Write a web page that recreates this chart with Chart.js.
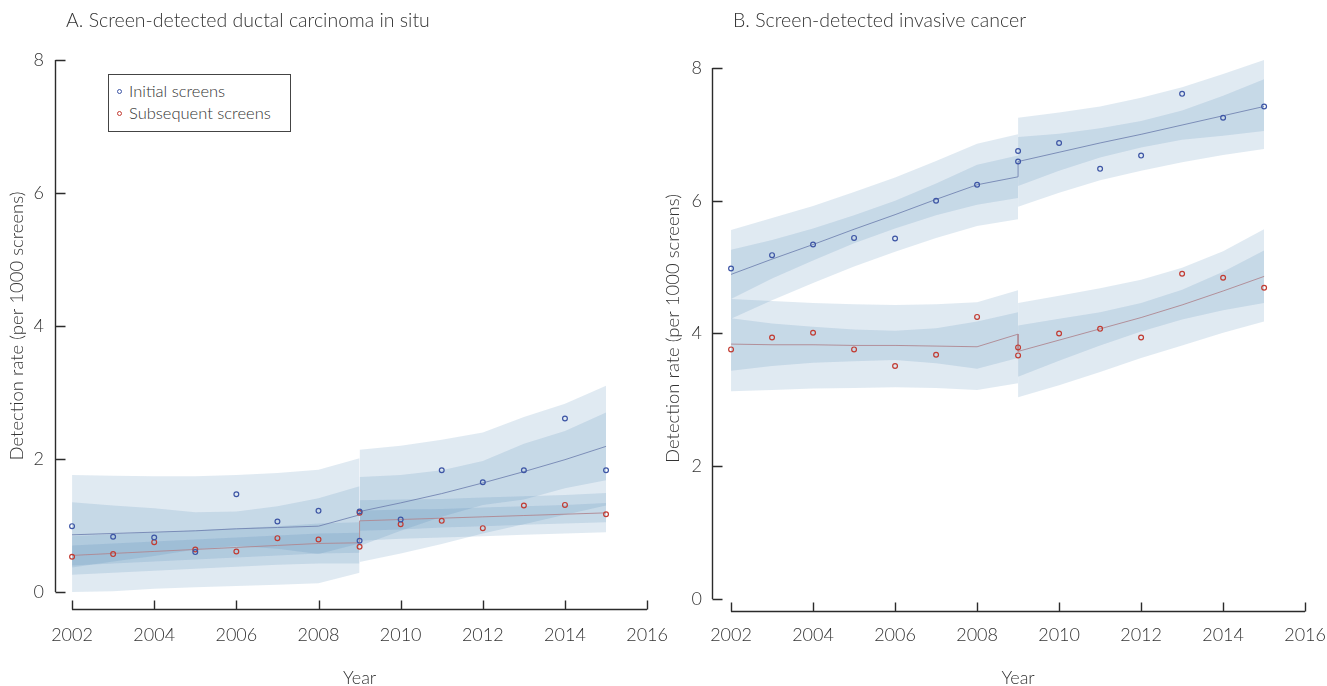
<!DOCTYPE html>
<html>
<head>
<meta charset="utf-8">
<title>Screen-detected cancer detection rates</title>
<script src="https://cdn.jsdelivr.net/npm/chart.js@4.4.1/dist/chart.umd.min.js"></script>
<style>
  body { margin: 0; background: #fff; font-family: Lato, "Open Sans", sans-serif; font-weight: 300; color: #333; }
  #wrap { position: relative; width: 1327px; height: 686px; overflow: hidden; }
  .panel { position: absolute; top: 0; }
  #chartA { left: 0; }
  #chartB { left: 663px; }
  .ptitle { position: absolute; top: 8px; font-size: 19.5px; white-space: nowrap; color: #333; }
  .legend { position: absolute; left: 108px; top: 74px; width: 181px; height: 56px; border: 1px solid #444; background: #fff; font-size: 16.5px; }
  .legend div { position: absolute; left: 8px; white-space: nowrap; }
  .legend span { display: inline-block; width: 3px; height: 3px; border: 1.2px solid; border-radius: 50%; margin-right: 7px; vertical-align: middle; position: relative; top: -1px; }
</style>
</head>
<body>
<div id="wrap">
  <canvas id="chartA" class="panel" width="700" height="686"></canvas>
  <canvas id="chartB" class="panel" width="688" height="686"></canvas>
  <div class="ptitle" style="left:66px">A. Screen-detected ductal carcinoma in situ</div>
  <div class="ptitle" style="left:733px">B. Screen-detected invasive cancer</div>
  <div class="legend">
    <div style="top:6px"><span style="border-color:#3d55a5"></span>Initial screens</div>
    <div style="top:28px"><span style="border-color:#c23b32"></span>Subsequent screens</div>
  </div>
</div>
<script>
// --- DATA ---
// 2009 appears twice: last point of the 2002-2009 period, first point of 2009-2015
const years = [2002, 2003, 2004, 2005, 2006, 2007, 2008, 2009, 2009, 2010, 2011, 2012, 2013, 2014, 2015];
const xTicks = [2002, 2004, 2006, 2008, 2010, 2012, 2014, 2016];
const yTicks = [0, 2, 4, 6, 8];

// A. ductal carcinoma in situ
const dcisInitialObs = [0.99, 0.83, 0.82, 0.60, 1.47, 1.06, 1.22, 0.77, 1.21, 1.09, 1.83, 1.65, 1.83, 2.61, 1.83];
const dcisSubseqObs  = [0.53, 0.57, 0.75, 0.64, 0.61, 0.81, 0.79, 0.68, 1.19, 1.02, 1.07, 0.96, 1.30, 1.31, 1.17];
const dcisInitialFit = [0.86, 0.88, 0.90, 0.92, 0.95, 0.97, 0.99, 1.16, 1.21, 1.34, 1.48, 1.64, 1.81, 1.99, 2.19];
const dcisInitialOuterHi = [1.76, 1.75, 1.74, 1.74, 1.76, 1.79, 1.84, 2.01, 2.14, 2.20, 2.29, 2.40, 2.63, 2.83, 3.10];
const dcisInitialOuterLo = [0.00, 0.01, 0.05, 0.07, 0.09, 0.11, 0.13, 0.29, 0.45, 0.58, 0.72, 0.88, 1.02, 1.16, 1.30];
const dcisInitialInnerHi = [1.35, 1.30, 1.26, 1.20, 1.21, 1.29, 1.41, 1.59, 1.73, 1.76, 1.83, 1.97, 2.23, 2.42, 2.70];
const dcisInitialInnerLo = [0.37, 0.46, 0.54, 0.64, 0.69, 0.65, 0.57, 0.73, 0.69, 0.92, 1.13, 1.31, 1.39, 1.56, 1.68];
const dcisSubseqFit = [0.55, 0.58, 0.61, 0.64, 0.67, 0.70, 0.73, 0.74, 1.07, 1.09, 1.11, 1.13, 1.15, 1.17, 1.19];
const dcisSubseqOuterHi = [0.84, 0.87, 0.90, 0.93, 0.96, 0.99, 1.03, 1.05, 1.38, 1.39, 1.40, 1.42, 1.44, 1.46, 1.49];
const dcisSubseqOuterLo = [0.26, 0.29, 0.32, 0.35, 0.38, 0.41, 0.43, 0.43, 0.77, 0.80, 0.82, 0.84, 0.86, 0.88, 0.90];
const dcisSubseqInnerHi = [0.70, 0.73, 0.76, 0.79, 0.82, 0.85, 0.88, 0.89, 1.22, 1.24, 1.25, 1.27, 1.29, 1.31, 1.34];
const dcisSubseqInnerLo = [0.40, 0.43, 0.46, 0.49, 0.52, 0.55, 0.58, 0.59, 0.92, 0.94, 0.97, 0.99, 1.01, 1.03, 1.05];

// B. invasive cancer
const invInitialObs = [4.98, 5.18, 5.34, 5.44, 5.43, 6.00, 6.24, 6.75, 6.59, 6.87, 6.48, 6.68, 7.61, 7.25, 7.42];
const invSubseqObs  = [3.76, 3.94, 4.01, 3.76, 3.51, 3.68, 4.25, 3.79, 3.67, 4.00, 4.07, 3.94, 4.90, 4.84, 4.69];
const invInitialFit = [4.89, 5.12, 5.34, 5.57, 5.79, 6.02, 6.24, 6.36, 6.59, 6.73, 6.87, 7.00, 7.14, 7.28, 7.42];
const invInitialOuterHi = [5.56, 5.74, 5.92, 6.13, 6.35, 6.60, 6.86, 7.00, 7.25, 7.33, 7.42, 7.55, 7.71, 7.91, 8.12];
const invInitialOuterLo = [4.22, 4.50, 4.76, 5.01, 5.23, 5.44, 5.62, 5.72, 5.91, 6.12, 6.31, 6.45, 6.58, 6.69, 6.78];
const invInitialInnerHi = [5.26, 5.41, 5.58, 5.78, 6.00, 6.26, 6.54, 6.68, 6.96, 7.01, 7.09, 7.20, 7.36, 7.58, 7.83];
const invInitialInnerLo = [4.52, 4.83, 5.10, 5.36, 5.58, 5.78, 5.94, 6.04, 6.22, 6.45, 6.65, 6.80, 6.92, 6.98, 7.05];
const invSubseqFit = [3.84, 3.83, 3.83, 3.82, 3.82, 3.81, 3.80, 3.99, 3.73, 3.90, 4.07, 4.24, 4.43, 4.64, 4.86];
const invSubseqOuterHi = [4.52, 4.49, 4.46, 4.44, 4.43, 4.44, 4.47, 4.65, 4.46, 4.57, 4.68, 4.81, 4.99, 5.24, 5.57];
const invSubseqOuterLo = [3.13, 3.15, 3.17, 3.18, 3.19, 3.18, 3.15, 3.25, 3.04, 3.22, 3.42, 3.63, 3.82, 4.01, 4.18];
const invSubseqInnerHi = [4.23, 4.15, 4.10, 4.06, 4.04, 4.08, 4.18, 4.32, 4.12, 4.22, 4.32, 4.46, 4.66, 4.93, 5.25];
const invSubseqInnerLo = [3.44, 3.51, 3.56, 3.58, 3.60, 3.55, 3.47, 3.63, 3.35, 3.59, 3.82, 4.03, 4.21, 4.35, 4.46];

const SPLIT = 8; // first 8 entries belong to 2002-2009, the rest to 2009-2015
const BAND = 'rgba(70, 130, 180, 0.17)';
const BLUE = '#3d55a5';
const RED = '#c23b32';

function toPoints(xs, vals) {
    return vals.map((v, i) => ({ x: xs[i], y: v }));
}

// two datasets per period: upper edge filled down to the lower edge
function band(hi, lo) {
    const sets = [];
    [[0, SPLIT], [SPLIT, years.length]].forEach(([a, b]) => {
        sets.push({ data: toPoints(years.slice(a, b), hi.slice(a, b)), fill: '+1', backgroundColor: BAND, borderWidth: 0, pointRadius: 0 });
        sets.push({ data: toPoints(years.slice(a, b), lo.slice(a, b)), fill: false, borderWidth: 0, pointRadius: 0 });
    });
    return sets;
}

function dots(vals, color) {
    return { data: toPoints(years, vals), showLine: false, pointRadius: 2.4, pointBorderWidth: 1.2,
             pointBorderColor: color, pointBackgroundColor: 'rgba(0,0,0,0)', clip: false };
}

function fitLine(vals, color) {
    return { data: toPoints(years, vals), borderColor: color, borderWidth: 1, pointRadius: 0, fill: false, tension: 0 };
}

// axis lines sit a little away from the plot, ticks point inwards
const axisFrame = {
    id: 'axisFrame',
    afterDraw(chart, args, opts) {
        const { ctx, chartArea, scales: { x, y } } = chart;
        const ax = Math.round(chartArea.left - opts.yGap) + 0.5;
        const ay = Math.round(chartArea.bottom + opts.xGap) + 0.5;
        ctx.save();
        ctx.strokeStyle = '#2b2b2b';
        ctx.lineWidth = 1.4;
        ctx.beginPath();
        ctx.moveTo(ax, y.getPixelForValue(yTicks[yTicks.length - 1]));
        ctx.lineTo(ax, y.getPixelForValue(yTicks[0]));
        y.ticks.forEach(t => {
            const py = Math.round(y.getPixelForValue(t.value)) + 0.5;
            ctx.moveTo(ax, py); ctx.lineTo(ax + 10, py);
        });
        ctx.moveTo(x.getPixelForValue(x.min), ay);
        ctx.lineTo(x.getPixelForValue(x.max), ay);
        x.ticks.forEach(t => {
            const px = Math.round(x.getPixelForValue(t.value)) + 0.5;
            ctx.moveTo(px, ay); ctx.lineTo(px, ay - 9);
        });
        ctx.stroke();
        ctx.restore();
    }
};

function makeChart(id, g, layout) {
    const datasets = [
        dots(g.initialObs, BLUE),
        dots(g.subseqObs, RED),
        fitLine(g.initialFit, 'rgba(110, 128, 175, 0.85)'),
        fitLine(g.subseqFit, 'rgba(175, 135, 145, 0.9)'),
        ...band(g.initialOuterHi, g.initialOuterLo),
        ...band(g.initialInnerHi, g.initialInnerLo),
        ...band(g.subseqOuterHi, g.subseqOuterLo),
        ...band(g.subseqInnerHi, g.subseqInnerLo)
    ];
    const tickFont = { family: 'Lato', size: 18, weight: 300 };
    return new Chart(document.getElementById(id), {
        type: 'line',
        data: { datasets },
        options: {
            responsive: false,
            animation: false,
            layout: { padding: layout.padding },
            scales: {
                x: {
                    type: 'linear', min: 2002, max: 2016,
                    afterBuildTicks: s => { s.ticks = xTicks.map(v => ({ value: v })); },
                    grid: { display: false, drawTicks: false },
                    border: { display: false },
                    ticks: { color: '#333', font: tickFont, padding: layout.xPad, callback: v => String(v), maxRotation: 0 },
                    title: { display: true, text: 'Year', color: '#333', font: { family: 'Lato', size: 18, weight: 300 },
                             padding: { top: layout.xTitleTop, bottom: -2.8 } }
                },
                y: {
                    min: 0, max: layout.yMax,
                    afterBuildTicks: s => { s.ticks = yTicks.map(v => ({ value: v })); },
                    grid: { display: false, drawTicks: false },
                    border: { display: false },
                    ticks: { color: '#333', font: tickFont, padding: layout.yPad },
                    title: { display: true, text: 'Detection rate (per 1000 screens)', color: '#333',
                             font: { family: 'Lato', size: 18.5, weight: 300 },
                             padding: { top: layout.yTitleTop, bottom: layout.yTitleBottom } }
                }
            },
            plugins: {
                legend: { display: false },
                tooltip: { enabled: false },
                filler: { drawTime: 'beforeDatasetsDraw' },
                axisFrame: { xGap: layout.xGap, yGap: layout.yGap }
            }
        },
        plugins: [axisFrame]
    });
}

makeChart('chartA', {
    initialObs: dcisInitialObs, subseqObs: dcisSubseqObs,
    initialFit: dcisInitialFit, subseqFit: dcisSubseqFit,
    initialOuterHi: dcisInitialOuterHi, initialOuterLo: dcisInitialOuterLo,
    initialInnerHi: dcisInitialInnerHi, initialInnerLo: dcisInitialInnerLo,
    subseqOuterHi: dcisSubseqOuterHi, subseqOuterLo: dcisSubseqOuterLo,
    subseqInnerHi: dcisSubseqInnerHi, subseqInnerLo: dcisSubseqInnerLo
}, { padding: { top: 60, right: 0, bottom: 0, left: 0 }, yMax: 8, xPad: 32, xTitleTop: -10.4,
     yPad: 28, yTitleTop: 5.9, yTitleBottom: -22.5, xGap: 17, yGap: 17 });

makeChart('chartB', {
    initialObs: invInitialObs, subseqObs: invSubseqObs,
    initialFit: invInitialFit, subseqFit: invSubseqFit,
    initialOuterHi: invInitialOuterHi, initialOuterLo: invInitialOuterLo,
    initialInnerHi: invInitialInnerHi, initialInnerLo: invInitialInnerLo,
    subseqOuterHi: invSubseqOuterHi, subseqOuterLo: invSubseqOuterLo,
    subseqInnerHi: invSubseqInnerHi, subseqInnerLo: invSubseqInnerLo
}, { padding: { top: 58, right: 0, bottom: 0, left: 0 }, yMax: 8.15, xPad: 25, xTitleTop: -3.4,
     yPad: 29, yTitleTop: -1.1, yTitleBottom: -21.5, xGap: 12, yGap: 19 });
</script>
</body>
</html>
